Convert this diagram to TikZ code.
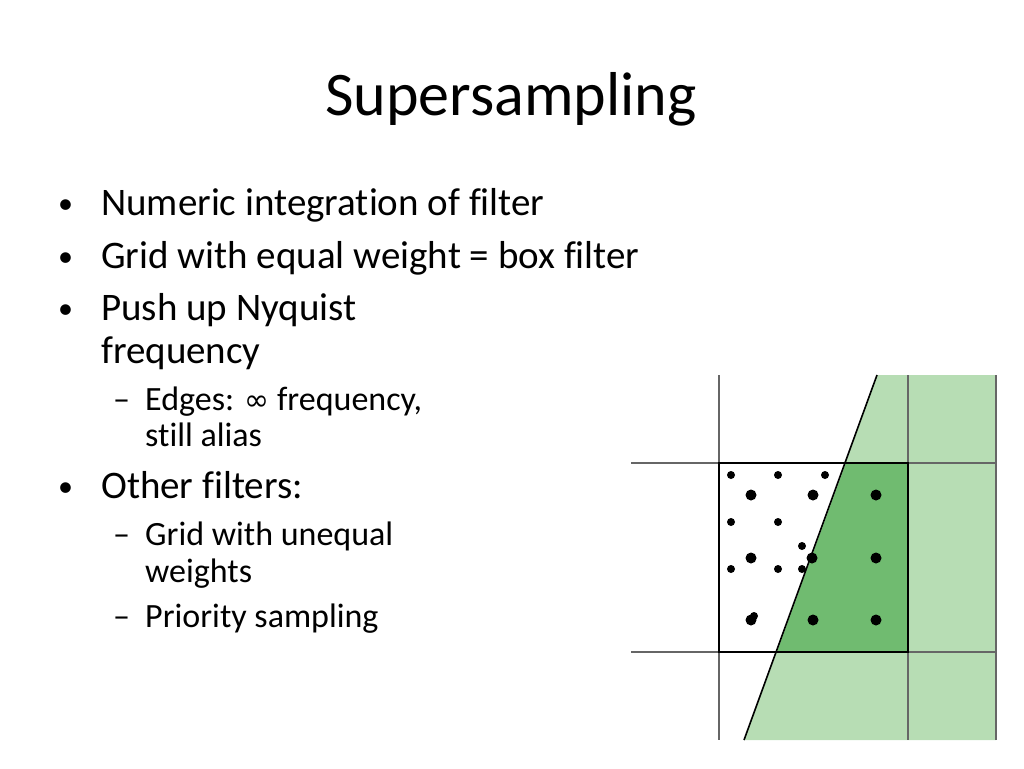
\documentclass[tikz,border=0pt]{standalone}
\usepackage{fontspec}
\setmainfont[Ligatures=NoCommon]{Carlito}
\newfontfamily\symf{DejaVu Sans}
\definecolor{lg}{RGB}{183,221,180}
\definecolor{dg}{RGB}{112,187,112}
\begin{document}
\begin{tikzpicture}[x=1pt,y=-1pt,
  l1/.style={anchor=base west,font=\fontsize{39}{44}\selectfont,inner sep=0},
  bl/.style={anchor=base west,font=\fontsize{30}{36}\selectfont,inner sep=0},
  l2/.style={anchor=base west,font=\fontsize{34}{40}\selectfont,inner sep=0},
  grid/.style={draw=black!60,line width=1.8pt},
  sq/.style={draw=black,line width=1.8pt},
  sd/.style={fill=black,circle,inner sep=0,minimum size=8pt},
  bd/.style={fill=black,circle,inner sep=0,minimum size=11pt}]
\useasboundingbox (0,0) rectangle (1024,768);
\node[anchor=base,font=\fontsize{62}{70}\selectfont,inner sep=0] (title) at (511,115) {Supersampling};
\node[bl] (b1d) at (58,213) {•}; \node[l1] (b1) at (101,215) {Numeric integration of filter};
\node[bl] (b2d) at (58,266) {•}; \node[l1] (b2) at (101,268) {Grid with equal weight = box filter};
\node[bl] (b3d) at (58,318) {•}; \node[l1] (b3) at (101,320) {Push up Nyquist};
\node[l1] (b3b) at (101,363) {frequency};
\node[l2] (s1d) at (113,410) {–}; \node[l2] (s1) at (145,410) {Edges: {\symf\fontsize{30}{36}\selectfont ∞} frequency,};
\node[l2] (s1b) at (145,446) {still alias};
\node[bl] (b4d) at (58,496) {•}; \node[l1] (b4) at (101,498) {Other filters:};
\node[l2] (s2d) at (113,545) {–}; \node[l2] (s2) at (145,545) {Grid with unequal};
\node[l2] (s2b) at (145,582) {weights};
\node[l2] (s3d) at (113,627) {–}; \node[l2] (s3) at (145,627) {Priority sampling};
\fill[lg] (877,375) -- (996,375) -- (996,740) -- (744,740) -- cycle;
\fill[dg] (846,463) -- (908,463) -- (908,652) -- (777,652) -- cycle;
\draw[grid] (719,375) -- (719,740);
\draw[grid] (908,375) -- (908,740);
\draw[grid] (996,375) -- (996,740);
\draw[grid] (631,463) -- (996,463);
\draw[grid] (631,652) -- (996,652);
\draw[sq] (719,463) rectangle (908,652);
\draw[line width=1.6pt] (877,375) -- (744,740);
\foreach \i/\x/\y in {1/731/475,2/778/475,3/825/475,4/731/522,5/778/522,6/731/569,7/778/569,8/802/569,9/802/546,10/754/616}
  \node[sd] (s\i) at (\x,\y) {};
\foreach \i/\x/\y in {1/751/495,2/813/495,3/876/495,4/751/558,5/812/558,6/876/558,7/751/620,8/813/620,9/876/620}
  \node[bd] (d\i) at (\x,\y) {};
\end{tikzpicture}
\end{document}
